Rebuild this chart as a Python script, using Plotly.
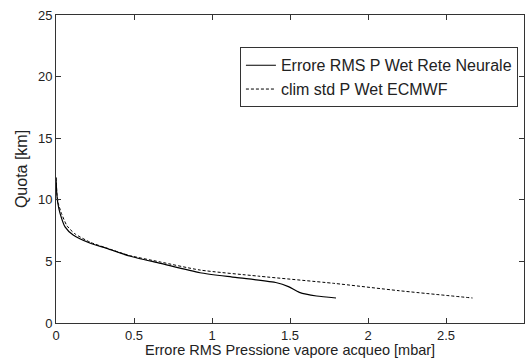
import plotly.graph_objects as go

# Errore RMS P Wet Rete Neurale (x: mbar, y: km)
rms_x = [0.0, 0.005, 0.012, 0.026, 0.058, 0.11, 0.22, 0.325, 0.47, 0.67, 0.923, 1.15, 1.415, 1.49, 1.56, 1.67, 1.795]
rms_y = [11.8, 10.5, 9.7, 8.9, 7.8, 7.14, 6.47, 6.06, 5.44, 4.84, 4.08, 3.7, 3.27, 2.95, 2.49, 2.19, 2.03]

# clim std P Wet ECMWF
clim_x = [0.0, 0.006, 0.015, 0.035, 0.07, 0.12, 0.22, 0.325, 0.47, 0.67, 0.923, 1.3, 1.78, 2.2, 2.67]
clim_y = [11.8, 10.5, 9.7, 8.9, 7.9, 7.25, 6.55, 6.08, 5.48, 4.95, 4.3, 3.8, 3.22, 2.62, 2.03]

x_ticks = [0, 0.5, 1, 1.5, 2, 2.5, 3]
x_labels = ["0", "0.5", "1", "1.5", "2", "2.5", "3"]
y_ticks = [0, 5, 10, 15, 20, 25]

X_TITLE = "Errore RMS Pressione vapore acqueo [mbar]"
Y_TITLE = "Quota [km]"

FONT = "Liberation Sans, Arial, Helvetica"

fig = go.Figure()
fig.add_trace(go.Scatter(x=rms_x, y=rms_y, mode="lines",
                         name="Errore RMS P Wet Rete Neurale",
                         line=dict(color="black", width=1.2, shape="spline", smoothing=0.6)))
fig.add_trace(go.Scatter(x=clim_x, y=clim_y, mode="lines",
                         name="clim std P Wet ECMWF",
                         line=dict(color="black", width=1, dash="3px,2px", shape="spline", smoothing=0.6)))

axis_common = dict(showgrid=False, zeroline=False, showline=True, linecolor="#333",
                   linewidth=1, mirror="ticks", ticks="inside", ticklen=5,
                   tickcolor="#333", tickfont=dict(family=FONT, size=13, color="#222"),
                   automargin=False)

fig.update_layout(
    width=526, height=358,
    margin=dict(l=56, r=2, t=15, b=35),
    paper_bgcolor="white", plot_bgcolor="white",
    font=dict(family=FONT, size=14, color="#222"),
    xaxis=dict(range=[0, 3], tickvals=x_ticks, ticktext=x_labels, **axis_common),
    yaxis=dict(range=[0, 25], tickvals=y_ticks,
               title=dict(text=Y_TITLE, standoff=6, font=dict(size=16)), **axis_common),
    legend=dict(x=0.393, y=0.895, xanchor="left", yanchor="top",
                bgcolor="white", bordercolor="#333", borderwidth=1,
                font=dict(family=FONT, size=16, color="#222"), itemwidth=30,
                tracegroupgap=0),
    showlegend=True,
)

fig.add_annotation(text=X_TITLE, xref="paper", yref="paper", x=0.5, y=0,
                   xanchor="center", yanchor="top", yshift=-18, showarrow=False,
                   borderpad=0,
                   font=dict(family=FONT, size=14.5, color="#222"))

fig.write_html("out.html")
